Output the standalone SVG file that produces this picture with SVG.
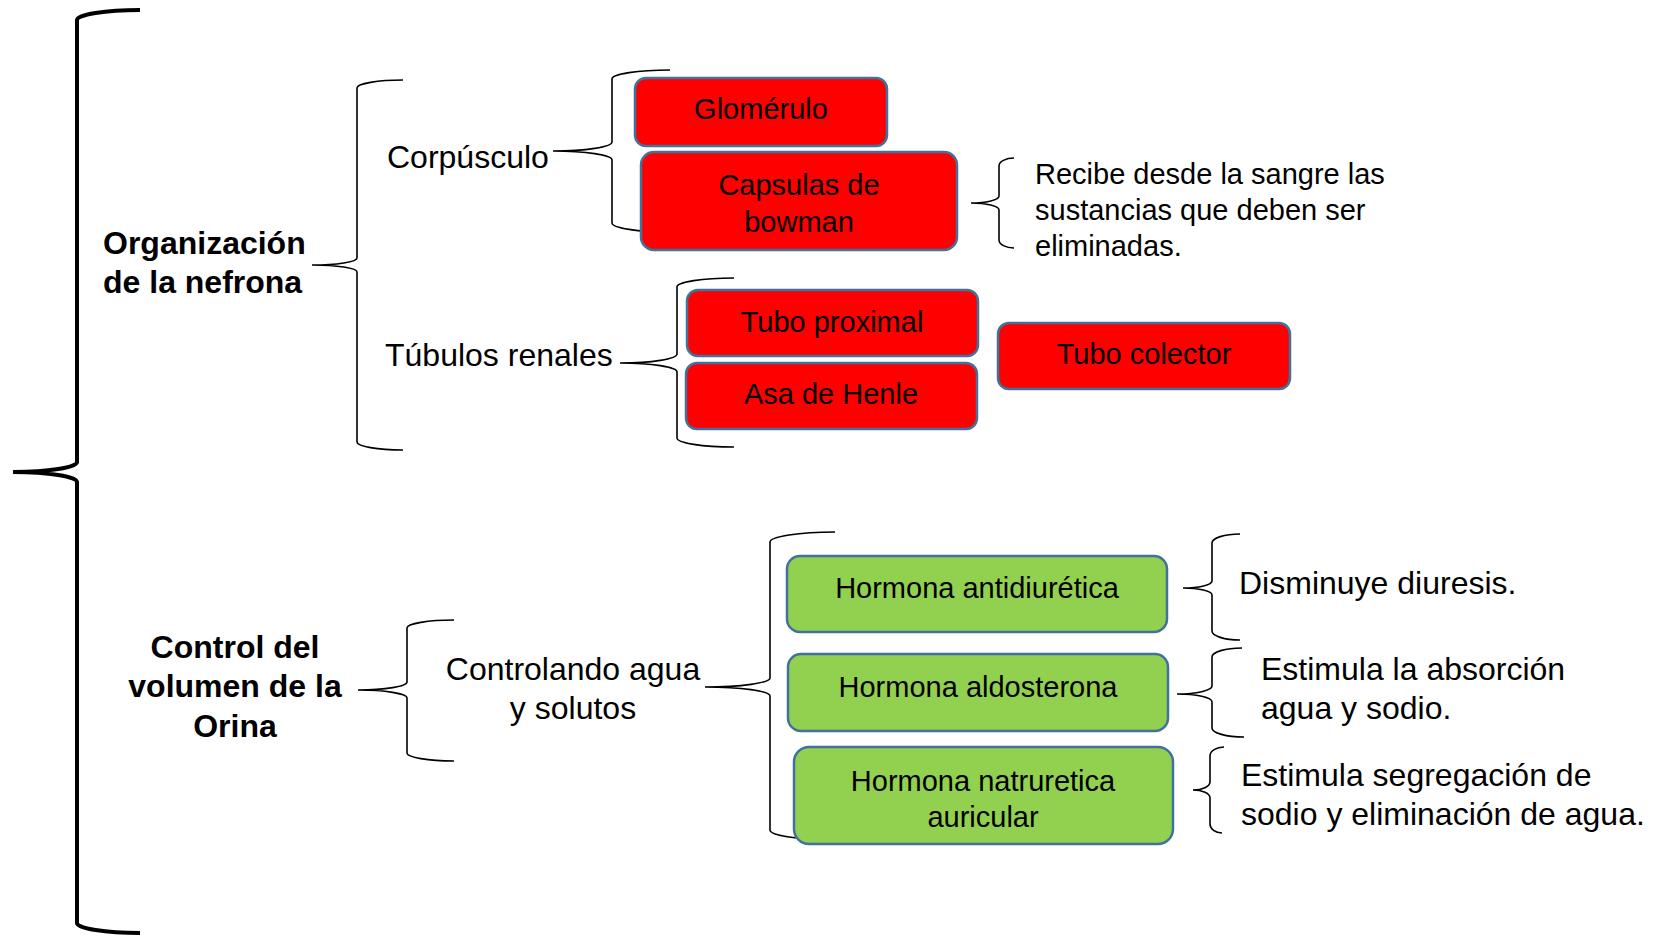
<svg xmlns="http://www.w3.org/2000/svg" width="1660" height="936" viewBox="0 0 1660 936">
<style>
.br{fill:none;stroke:#000;stroke-width:1.6}
.big{fill:none;stroke:#000;stroke-width:4}
.red{fill:#FF0000;stroke:#41719C;stroke-width:2.5}
.green{fill:#92D050;stroke:#41719C;stroke-width:2.5}
text{font-family:"Liberation Sans",Arial,sans-serif;fill:#000}
.t32{font-size:32px}
.t29{font-size:29px}
.b32{font-size:32px;font-weight:bold}
.c{text-anchor:middle}
</style>
<rect width="1660" height="936" fill="#fff"/>
<g id="connectors">
<path class="big" d="M140,10 A63,10 0 0 0 77,20 L77,462 A64,10 0 0 1 13,472 A64,10 0 0 1 77,482 L77,923 A63,10 0 0 0 140,933"/>
<path class="br" d="M403,80 A46,8 0 0 0 357,88 L357,258 A45,7 0 0 1 312,265 A45,7 0 0 1 357,272 L357,442 A46,8 0 0 0 403,450"/>
<path class="br" d="M670,70 A58,9 0 0 0 612,79 L612,142 A59,9 0 0 1 553,151 A59,9 0 0 1 612,160 L612,223 A58,9 0 0 0 670,232"/>
<path class="br" d="M734,278 A57,9 0 0 0 677,287 L677,354 A57,9 0 0 1 620,363 A57,9 0 0 1 677,372 L677,438 A57,9 0 0 0 734,447"/>
<path class="br" d="M1014,158 A15,8 0 0 0 999,166 L999,196 A28,7 0 0 1 971,203 A28,7 0 0 1 999,210 L999,240 A15,8 0 0 0 1014,248"/>
<path class="br" d="M454,620 A47,8 0 0 0 407,628 L407,682 A49,8 0 0 1 358,690 A49,8 0 0 1 407,698 L407,753 A47,8 0 0 0 454,761"/>
<path class="br" d="M835,532 A65,10 0 0 0 770,542 L770,678 A65,9 0 0 1 705,687 A65,9 0 0 1 770,696 L770,830 A65,10 0 0 0 835,840"/>
<path class="br" d="M1240,534 A28,9 0 0 0 1212,543 L1212,581 A29,7 0 0 1 1183,588 A29,7 0 0 1 1212,595 L1212,631 A28,9 0 0 0 1240,640"/>
<path class="br" d="M1242,648 A30,9 0 0 0 1212,657 L1212,686 A35,8 0 0 1 1177,694 A35,8 0 0 1 1212,702 L1212,728 A32,9 0 0 0 1244,737"/>
<path class="br" d="M1224,747 A14,9 0 0 0 1210,756 L1210,782 A17,8 0 0 1 1193,790 A17,8 0 0 1 1210,798 L1210,824 A12,9 0 0 0 1222,833"/>
</g>
<g id="organizacion"><text class="b32" x="103" y="254">Organización</text><text class="b32" x="103" y="293">de la nefrona</text></g>
<g id="corpusculo"><text class="t32" x="387" y="168">Corpúsculo</text></g>
<g id="tubulos"><text class="t32" x="385" y="366">Túbulos renales</text></g>
<g id="glomerulo"><rect class="red" x="635" y="78" width="252" height="68" rx="11"/><text class="t29 c" x="761" y="119">Glomérulo</text></g>
<g id="capsulas"><rect class="red" x="641" y="152" width="316" height="98" rx="13"/><text class="t29 c" x="799" y="195">Capsulas de</text><text class="t29 c" x="799" y="232">bowman</text></g>
<g id="recibe"><text class="t29" x="1035" y="184">Recibe desde la sangre las</text><text class="t29" x="1035" y="220">sustancias que deben ser</text><text class="t29" x="1035" y="256">eliminadas.</text></g>
<g id="proximal"><rect class="red" x="687" y="290" width="291" height="66" rx="11"/><text class="t29 c" x="832" y="332">Tubo proximal</text></g>
<g id="henle"><rect class="red" x="686" y="363" width="291" height="66" rx="11"/><text class="t29 c" x="831" y="404">Asa de Henle</text></g>
<g id="colector"><rect class="red" x="998" y="323" width="292" height="66" rx="11"/><text class="t29 c" x="1144" y="364">Tubo colector</text></g>
<g id="control"><text class="b32 c" x="235" y="658">Control del</text><text class="b32 c" x="235" y="697">volumen de la</text><text class="b32 c" x="235" y="737">Orina</text></g>
<g id="controlando"><text class="t32 c" x="573" y="680">Controlando agua</text><text class="t32 c" x="573" y="719">y solutos</text></g>
<g id="antidiuretica"><rect class="green" x="787" y="556" width="380" height="76" rx="13"/><text class="t29 c" x="977" y="598">Hormona antidiurética</text></g>
<g id="aldosterona"><rect class="green" x="788" y="654" width="380" height="77" rx="13"/><text class="t29 c" x="978" y="697">Hormona aldosterona</text></g>
<g id="natruretica"><rect class="green" x="794" y="747" width="379" height="97" rx="15"/><text class="t29 c" x="983" y="791">Hormona natruretica</text><text class="t29 c" x="983" y="827">auricular</text></g>
<g id="disminuye"><text class="t32" x="1239" y="594">Disminuye diuresis.</text></g>
<g id="absorcion"><text class="t32" x="1261" y="680">Estimula la absorción</text><text class="t32" x="1261" y="719">agua y sodio.</text></g>
<g id="segregacion"><text class="t32" x="1241" y="786">Estimula segregación de</text><text class="t32" x="1241" y="825">sodio y eliminación de agua.</text></g>
</svg>
